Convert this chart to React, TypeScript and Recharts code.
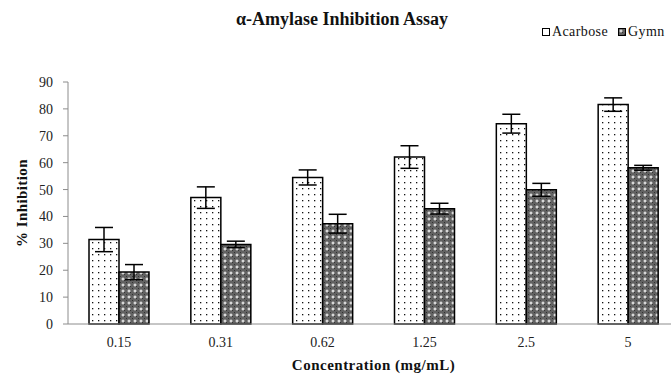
import { Bar, BarChart, ErrorBar, Legend, XAxis, YAxis } from 'recharts'

const CATEGORIES = ['0.15', '0.31', '0.62', '1.25', '2.5', '5']
const ACARBOSE = [31.4, 47.0, 54.5, 62.1, 74.5, 81.6]
const ACARBOSE_ERR = [4.5, 4.0, 2.8, 4.2, 3.5, 2.5]
const GYMNEMA = [19.3, 29.6, 37.3, 42.9, 49.9, 58.1]
const GYMNEMA_ERR = [2.8, 1.2, 3.5, 2.0, 2.4, 0.9]
const Y_TICKS = [0, 10, 20, 30, 40, 50, 60, 70, 80, 90]

// the legend in the source image is cropped at "Gymn"
const SERIES = [
  { key: 'acarbose', name: 'Acarbose', fill: 'dots' },
  { key: 'gymnema', name: 'Gymn', fill: 'checks' },
]

const rows = CATEGORIES.map((c, i) => ({
  conc: c,
  acarbose: ACARBOSE[i],
  acarboseErr: ACARBOSE_ERR[i],
  gymnema: GYMNEMA[i],
  gymnemaErr: GYMNEMA_ERR[i],
}))

const FONT = '"Liberation Serif", "Times New Roman", serif'
const AXIS = '#8c8c8c'

function Patterns({ prefix = '' }: { prefix?: string }) {
  return (
    <defs>
      <pattern id={prefix + 'dots'} width="6" height="6" patternUnits="userSpaceOnUse">
        <rect width="6" height="6" fill="#fff" />
        <rect x="2" y="2" width="1.3" height="1.3" fill="#111" />
      </pattern>
      <pattern id={prefix + 'checks'} width="6" height="6" patternUnits="userSpaceOnUse">
        <rect width="6" height="6" fill="#626262" />
        <rect x="0" y="0" width="1" height="1" fill="#333" />
        <rect x="4" y="4" width="1" height="1" fill="#333" />
        <rect x="2.5" y="1.5" width="1" height="3" fill="#fff" />
        <rect x="1.5" y="2.5" width="3" height="1" fill="#fff" />
      </pattern>
    </defs>
  )
}

function LegendBody() {
  return (
    <div style={{ display: 'flex', alignItems: 'center', fontFamily: FONT, fontSize: 14, letterSpacing: 0.4, color: '#111', whiteSpace: 'nowrap' }}>
      {SERIES.map((s, i) => (
        <span key={s.key} style={{ display: 'inline-flex', alignItems: 'center', marginRight: 10 }}>
          <svg width="8" height="8" style={{ marginRight: 2 }}>
            {i > 0 && <Patterns prefix="lg-" />}
            <rect x="0.5" y="0.5" width="7" height="7" fill={i > 0 ? 'url(#lg-' + s.fill + ')' : '#fff'} stroke="#000" />
          </svg>
          {s.name}
        </span>
      ))}
    </div>
  )
}

export default function App() {
  return (
    <div style={{ position: 'absolute', left: 0, top: 0, width: 671, height: 374, overflow: 'hidden', background: '#fff' }}>
      <div style={{ position: 'absolute', top: 9, left: 236, fontFamily: FONT, fontWeight: 'bold', fontSize: 18, color: '#111', whiteSpace: 'nowrap' }}>
        α-Amylase Inhibition Assay
      </div>
      <BarChart
        width={690}
        height={374}
        data={rows}
        margin={{ top: 66, right: 11, bottom: 0, left: 0 }}
        barGap={0}
        barSize={30}
      >
        <Patterns />
        <XAxis
          dataKey="conc"
          height={50}
          stroke={AXIS}
          tickLine={false}
          tickMargin={7}
          tick={{ fill: '#222', fontFamily: FONT, fontSize: 14 }}
          label={{ value: 'Concentration (mg/mL)', position: 'insideBottom', offset: 4, fill: '#111', fontFamily: FONT, fontWeight: 'bold', fontSize: 15, letterSpacing: 0.5 }}
        />
        <YAxis
          domain={[0, 90]}
          ticks={Y_TICKS}
          width={68}
          stroke={AXIS}
          tickSize={5}
          tickMargin={10}
          tick={{ fill: '#222', fontFamily: FONT, fontSize: 14 }}
          label={{ value: '% Inhibition', angle: -90, position: 'insideLeft', offset: 22, fill: '#111', fontFamily: FONT, fontWeight: 'bold', fontSize: 15, letterSpacing: 0.4, style: { textAnchor: 'middle' } }}
        />
        <Legend
          verticalAlign="top"
          content={() => <LegendBody />}
          wrapperStyle={{ position: 'absolute', top: 24, left: 542, width: 130 }}
        />
        {SERIES.map((s) => (
          <Bar
            key={s.key}
            dataKey={s.key}
            name={s.name}
            fill={'url(#' + s.fill + ')'}
            stroke="#000"
            strokeWidth={1.5}
            isAnimationActive={false}
          >
            <ErrorBar dataKey={s.key + 'Err'} width={9} stroke="#000" strokeWidth={1.5} />
          </Bar>
        ))}
      </BarChart>
    </div>
  )
}
